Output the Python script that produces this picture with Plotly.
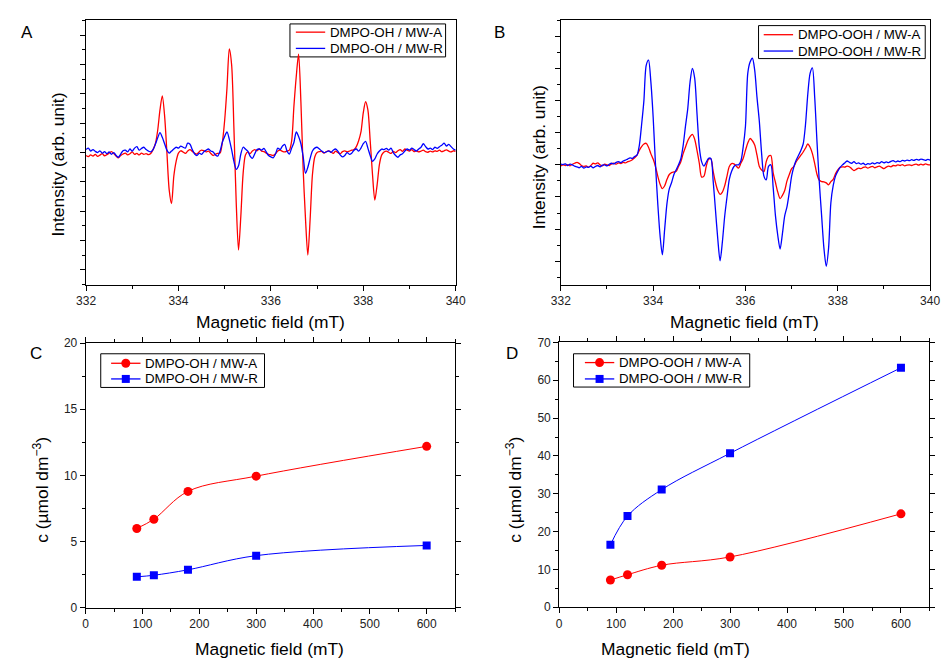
import numpy as np
import plotly.graph_objects as go

# ---------------------------------------------------------------------------
# EPR spectra (arbitrary intensity), sampled every 0.05 mT from 332 to 340 mT
# ---------------------------------------------------------------------------
field_epr = np.round(np.arange(332.0, 340.0 + 1e-9, 0.05), 2)

oh_mw_a = [
    -0.10, -0.14, -0.08, -0.12, -0.06, -0.13, -0.09, -0.04, -0.11, -0.07,  # 332.0
    -0.02, 0.03, -0.03, -0.12, -0.18, -0.10, -0.05, -0.02, -0.08, -0.04,   # 332.5
    0.02, -0.06, -0.03, -0.08, -0.02, -0.06, -0.04, -0.07, -0.03, 0.10,    # 333.0
    0.30, 0.75, 1.45, 1.93, 1.25, 0.00, -1.28, -1.74, -0.80, -0.30,        # 333.5
    -0.02, 0.06, 0.02, -0.03, 0.05, 0.10, 0.04, -0.02, -0.05, 0.03,        # 334.0
    0.08, 0.06, 0.02, 0.05, -0.03, -0.10, -0.06, -0.03, -0.02, 0.35,       # 334.5
    1.10, 2.20, 3.53, 3.00, 0.84, -1.70, -3.32, -2.16, -0.70, -0.08,       # 335.0
    0.02, -0.04, 0.05, 0.10, 0.06, 0.12, 0.05, 0.03, -0.02, -0.06,         # 335.5
    -0.08, -0.10, -0.04, 0.05, 0.08, 0.04, 0.02, 0.05, 0.08, 0.40,         # 336.0
    1.60, 2.60, 3.35, 1.73, -0.60, -2.27, -3.49, -2.27, -0.75, -0.15,      # 336.5
    0.00, 0.03, 0.04, -0.02, 0.03, 0.06, 0.02, -0.03, 0.05, 0.00,          # 337.0
    -0.04, 0.03, 0.06, 0.02, 0.05, 0.08, 0.10, 0.20, 0.40, 0.70,           # 337.5
    1.35, 1.73, 1.45, 0.40, -0.75, -1.62, -1.10, -0.40, -0.08, 0.02,       # 338.0
    0.05, 0.01, -0.03, 0.04, 0.00, 0.06, 0.10, 0.04, 0.12, 0.08,           # 338.5
    0.05, 0.10, 0.03, 0.06, 0.02, 0.05, 0.08, 0.03, 0.01, 0.05,            # 339.0
    0.02, 0.06, 0.04, 0.08, 0.03, 0.06, 0.09, 0.05, 0.02, 0.06,            # 339.5
    0.04,                                                                  # 340.0
]

oh_mw_r = [
    0.10, 0.15, 0.05, 0.10, 0.04, 0.00, 0.06, -0.02, 0.03, -0.04,          # 332.0
    0.02, -0.06, 0.00, -0.10, -0.16, -0.05, 0.06, 0.08, 0.02, 0.12,        # 332.5
    0.05, 0.15, 0.20, 0.08, 0.14, 0.18, 0.10, 0.05, 0.02, 0.10,            # 333.0
    0.28, 0.50, 0.68, 0.52, 0.30, 0.08, -0.02, 0.05, 0.12, 0.18,           # 333.5
    0.15, 0.22, 0.18, 0.15, 0.32, 0.28, 0.10, -0.05, -0.10, -0.02,         # 334.0
    -0.06, 0.03, 0.08, 0.12, 0.05, 0.02, -0.08, -0.12, 0.05, 0.35,         # 334.5
    0.55, 0.70, 0.45, 0.10, -0.30, -0.57, -0.45, -0.05, 0.18, 0.12,        # 335.0
    0.05, -0.12, -0.20, -0.05, 0.10, 0.12, 0.08, 0.14, 0.02, -0.10,        # 335.5
    -0.15, -0.18, -0.05, 0.15, 0.10, 0.22, 0.28, 0.05, -0.05, 0.15,        # 336.0
    0.35, 0.70, 0.55, 0.30, -0.15, -0.71, -0.50, -0.20, 0.05, 0.15,        # 336.5
    0.18, 0.12, 0.05, 0.00, 0.02, 0.06, 0.01, 0.08, 0.12, 0.05,            # 337.0
    -0.08, -0.15, -0.10, 0.00, -0.06, -0.02, 0.08, 0.12, 0.05, 0.15,       # 337.5
    0.30, 0.38, 0.15, -0.10, -0.30, -0.22, -0.05, 0.05, 0.12, 0.10,        # 338.0
    0.14, 0.08, 0.15, 0.00, -0.10, -0.16, -0.08, -0.04, 0.05, 0.12,        # 338.5
    0.08, 0.15, 0.10, 0.05, 0.12, 0.18, 0.30, 0.20, 0.12, 0.15,            # 339.0
    0.10, 0.18, 0.14, 0.20, 0.25, 0.32, 0.22, 0.28, 0.20, 0.12,            # 339.5
    0.08,                                                                  # 340.0
]

ooh_mw_a = [
    -0.03, 0.00, -0.02, 0.01, -0.03, 0.02, 0.05, 0.08, 0.04, -0.02,        # 332.0
    -0.05, -0.03, -0.07, -0.02, 0.05, 0.03, 0.06, 0.00, -0.03, 0.02,       # 332.5
    0.00, -0.02, 0.03, 0.05, 0.02, 0.06, 0.04, 0.08, 0.06, 0.10,           # 333.0
    0.12, 0.16, 0.22, 0.30, 0.45, 0.57, 0.65, 0.67, 0.55, 0.35,            # 333.5
    0.18, -0.05, -0.35, -0.60, -0.74, -0.65, -0.45, -0.30, -0.24, -0.22,   # 334.0
    -0.20, -0.05, 0.10, 0.35, 0.55, 0.75, 0.88, 0.95, 0.80, 0.45,          # 334.5
    0.05, -0.38, -0.35, -0.05, 0.17, 0.19, -0.20, -0.55, -0.80, -0.92,     # 335.0
    -0.85, -0.65, -0.35, -0.05, 0.04, 0.03, -0.04, -0.10, 0.05, 0.20,      # 335.5
    0.45, 0.68, 0.82, 0.75, 0.62, 0.30, -0.05, -0.16, -0.21, 0.10,         # 336.0
    0.27, 0.29, -0.25, -0.55, -0.85, -1.05, -0.95, -0.80, -0.50, -0.30,    # 336.5
    -0.12, -0.05, 0.10, 0.20, 0.30, 0.40, 0.52, 0.65, 0.55, 0.35,          # 337.0
    0.04, -0.30, -0.48, -0.52, -0.53, -0.56, -0.62, -0.52, -0.45, -0.28,   # 337.5
    -0.16, -0.08, -0.06, -0.07, -0.04, -0.06, -0.12, -0.18, -0.14, -0.10,  # 338.0
    -0.12, -0.08, -0.06, -0.10, -0.07, -0.05, -0.09, -0.06, -0.04, -0.08,  # 338.5
    -0.12, -0.07, -0.04, -0.06, -0.02, -0.03, 0.00, -0.02, 0.01, -0.03,    # 339.0
    -0.01, 0.00, -0.02, 0.01, 0.02, -0.01, 0.02, 0.00, 0.03, 0.01,         # 339.5
    0.00,                                                                  # 340.0
]

ooh_mw_r = [
    0.02, 0.01, 0.03, -0.02, 0.02, 0.00, -0.04, -0.06, -0.09, -0.05,       # 332.0
    -0.10, -0.06, -0.08, -0.04, -0.09, -0.05, -0.02, -0.06, -0.01, 0.00,   # 332.5
    -0.03, 0.02, 0.05, 0.03, 0.08, 0.10, 0.07, 0.12, 0.15, 0.18,           # 333.0
    0.22, 0.20, 0.26, 0.30, 0.60, 1.25, 2.00, 3.10, 3.26, 2.60,            # 333.5
    1.50, 0.04, -1.20, -2.20, -2.80, -2.00, -1.20, -0.75, -0.55, -0.30,    # 334.0
    -0.15, 0.00, 0.19, 0.60, 1.20, 1.75, 2.58, 3.00, 2.70, 1.60,           # 334.5
    0.55, 0.10, -0.04, 0.08, 0.20, 0.20, -0.50, -1.40, -2.30, -2.99,       # 335.0
    -2.40, -1.60, -1.00, -0.45, -0.20, -0.05, 0.00, 0.00, 0.12, 0.55,      # 335.5
    1.20, 2.85, 3.20, 3.32, 2.95, 2.10, 1.36, 0.35, -0.35, -0.47,          # 336.0
    -0.05, 0.00, -0.70, -1.59, -2.20, -2.62, -2.15, -1.59, -1.30, -0.85,   # 336.5
    -0.35, -0.05, 0.15, 0.30, 0.45, 0.65, 1.25, 2.20, 2.85, 3.02,          # 337.0
    2.10, 0.70, -0.55, -1.59, -2.60, -3.16, -2.60, -1.18, -0.65, -0.35,    # 337.5
    -0.20, -0.08, 0.00, 0.06, 0.12, 0.08, 0.05, 0.10, 0.04, 0.06,          # 338.0
    0.02, 0.05, 0.00, 0.04, 0.02, 0.06, 0.03, 0.07, 0.05, 0.10,            # 338.5
    0.06, 0.09, 0.07, 0.11, 0.13, 0.09, 0.12, 0.10, 0.14, 0.12,            # 339.0
    0.15, 0.13, 0.16, 0.14, 0.17, 0.15, 0.18, 0.16, 0.14, 0.17,            # 339.5
    0.15,                                                                  # 340.0
]

for series in (oh_mw_a, oh_mw_r, ooh_mw_a, ooh_mw_r):
    assert len(series) == len(field_epr)

# ---------------------------------------------------------------------------
# Spin-adduct concentration (µmol dm^-3)
# ---------------------------------------------------------------------------
field_levels = [90, 120, 180, 300, 600]
c_oh_a = [6.0, 6.7, 8.8, 9.95, 12.2]
c_oh_r = [2.35, 2.47, 2.88, 3.95, 4.72]
c_ooh_a = [7.2, 8.6, 11.1, 13.3, 24.7]
c_ooh_r = [16.5, 24.1, 31.1, 40.7, 63.3]

RED = "#ff0000"
BLUE = "#0000ff"
FONT = "Arial, Liberation Sans, sans-serif"
W, H = 946, 659


def px(x):
    return x / W


def py(y):
    return 1 - y / H


def dom_x(left, right):
    return [left / W, right / W]


def dom_y(top, bottom):
    return [(H - bottom) / H, (H - top) / H]


def axis(**kw):
    base = dict(
        showline=True, linecolor="black", linewidth=1,
        showgrid=False, zeroline=False,
        ticks="outside", ticklen=5, tickwidth=1, tickcolor="black",
        tickfont=dict(size=12, color="#222", family=FONT),
    )
    base.update(kw)
    return base


def minor(step):
    return dict(ticks="outside", ticklen=3, tickwidth=1, tickcolor="black", dtick=step)


fig = go.Figure()

spec_line = dict(width=1.3, shape="spline", smoothing=0.8)

# Panel A: DMPO-OH spectra
fig.add_trace(go.Scatter(x=field_epr, y=oh_mw_a, mode="lines", name="DMPO-OH / MW-A",
                         line=dict(color=RED, **spec_line), xaxis="x", yaxis="y"))
fig.add_trace(go.Scatter(x=field_epr, y=oh_mw_r, mode="lines", name="DMPO-OH / MW-R",
                         line=dict(color=BLUE, **spec_line), xaxis="x", yaxis="y"))

# Panel B: DMPO-OOH spectra
fig.add_trace(go.Scatter(x=field_epr, y=ooh_mw_a, mode="lines", name="DMPO-OOH / MW-A",
                         line=dict(color=RED, **spec_line), xaxis="x2", yaxis="y2"))
fig.add_trace(go.Scatter(x=field_epr, y=ooh_mw_r, mode="lines", name="DMPO-OOH / MW-R",
                         line=dict(color=BLUE, **spec_line), xaxis="x2", yaxis="y2"))

# Panel C: DMPO-OH concentration
fig.add_trace(go.Scatter(x=field_levels, y=c_oh_a, mode="lines+markers", name="DMPO-OH / MW-A",
                         line=dict(color=RED, width=1, shape="spline", smoothing=1),
                         marker=dict(symbol="circle", size=9, color=RED),
                         xaxis="x3", yaxis="y3"))
fig.add_trace(go.Scatter(x=field_levels, y=c_oh_r, mode="lines+markers", name="DMPO-OH / MW-R",
                         line=dict(color=BLUE, width=1, shape="spline", smoothing=1),
                         marker=dict(symbol="square", size=8, color=BLUE),
                         xaxis="x3", yaxis="y3"))

# Panel D: DMPO-OOH concentration
fig.add_trace(go.Scatter(x=field_levels, y=c_ooh_a, mode="lines+markers", name="DMPO-OOH / MW-A",
                         line=dict(color=RED, width=1, shape="spline", smoothing=1),
                         marker=dict(symbol="circle", size=9, color=RED),
                         xaxis="x4", yaxis="y4"))
fig.add_trace(go.Scatter(x=field_levels, y=c_ooh_r, mode="lines+markers", name="DMPO-OOH / MW-R",
                         line=dict(color=BLUE, width=1, shape="spline", smoothing=1),
                         marker=dict(symbol="square", size=8, color=BLUE),
                         xaxis="x4", yaxis="y4"))

annotations = []
shapes = []


def text(x, y, s, size=17.4, angle=0, xanchor="center", yanchor="middle"):
    annotations.append(dict(
        x=px(x), y=py(y), xref="paper", yref="paper", text=s, showarrow=False,
        textangle=angle, xanchor=xanchor, yanchor=yanchor, borderpad=0,
        font=dict(size=size, family=FONT, color="black"),
    ))


# Framed keys are laid out on a hidden full-page pixel axis (x5/y5) so the key
# samples use the same line and marker rendering as the data traces.
def legend_block(box, rows, line_x, text_x, marker=False):
    """box=(left, top, right, bottom); rows=[(y, colour, label, symbol, size)]."""
    left, top, right, bottom = box
    shapes.append(dict(type="rect", xref="paper", yref="paper",
                       x0=px(left), x1=px(right), y0=py(bottom), y1=py(top),
                       line=dict(color="black", width=1), fillcolor="white", layer="below"))
    for y, colour, label, symbol, size in rows:
        fig.add_trace(go.Scatter(x=list(line_x), y=[y, y], mode="lines",
                                 line=dict(color=colour, width=1.3),
                                 xaxis="x5", yaxis="y5", hoverinfo="skip", showlegend=False))
        if marker:
            fig.add_trace(go.Scatter(x=[(line_x[0] + line_x[1]) / 2], y=[y], mode="markers",
                                     marker=dict(symbol=symbol, size=size, color=colour),
                                     xaxis="x5", yaxis="y5", hoverinfo="skip", showlegend=False))
        text(text_x, y, label, size=13.3, xanchor="left")


legend_block((286, 17.3, 445, 51), [(25.7, RED, "DMPO-OH / MW-A", None, 0),
                                     (42.3, BLUE, "DMPO-OH / MW-R", None, 0)],
             (292, 322), 325.5)
legend_block((764.7, 19, 935, 52.7), [(28.3, RED, "DMPO-OOH / MW-A", None, 0),
                                       (45.0, BLUE, "DMPO-OOH / MW-R", None, 0)],
             (770, 800), 803.5)
legend_block((92.7, 354.3, 260, 388.7), [(364.0, RED, "DMPO-OH / MW-A", "circle", 9),
                                          (380.0, BLUE, "DMPO-OH / MW-R", "square", 8)],
             (103.3, 133.3), 137, marker=True)
legend_block((575.7, 354.3, 755.7, 388.3), [(363.3, RED, "DMPO-OOH / MW-A", "circle", 9),
                                             (380.0, BLUE, "DMPO-OOH / MW-R", "square", 8)],
             (587.3, 617.3), 621, marker=True)

# panel letters
text(17.5, 26, "A", size=17)
text(500, 26, "B", size=17)
text(26.5, 354, "C", size=17)
text(512.5, 354, "D", size=17)

# axis titles
text(266, 322, "Magnetic field (mT)")
text(750.5, 322, "Magnetic field (mT)")
text(265, 656, "Magnetic field (mT)")
text(679.5, 656, "Magnetic field (mT)")
text(49, 161, "Intensity (arb. unit)", angle=-90)
text(540, 154, "Intensity (arb. unit)", angle=-90)
text(31, 493, "c (µmol dm<sup>−3</sup>)", angle=-90)
text(514, 493, "c (µmol dm<sup>−3</sup>)", angle=-90)

fig.update_layout(
    width=W, height=H, margin=dict(l=0, r=0, t=0, b=0),
    paper_bgcolor="white", plot_bgcolor="rgba(0,0,0,0)",
    font=dict(family=FONT, color="black"),
    showlegend=False,
    xaxis=axis(domain=dom_x(77.7, 455.3), anchor="y", range=[332, 340],
               tick0=332, dtick=2, minor=minor(1), mirror=True),
    yaxis=axis(domain=dom_y(13.3, 284), anchor="x", range=[-4.51, 4.513],
               tick0=0, dtick=1, minor=minor(0.5), mirror=True, showticklabels=False),
    xaxis2=axis(domain=dom_x(562.7, 940), anchor="y2", range=[332, 340],
                tick0=332, dtick=2, minor=minor(1), mirror=True),
    yaxis2=axis(domain=dom_y(13.3, 284), anchor="x2", range=[-3.74, 4.51],
                tick0=0, dtick=1, minor=minor(0.5), mirror=True, showticklabels=False),
    xaxis3=axis(domain=dom_x(77.3, 454.7), anchor="y3", range=[0, 650],
                tick0=0, dtick=100, minor=minor(50), mirror="ticks"),
    yaxis3=axis(domain=dom_y(343.3, 614), anchor="x3", range=[0, 20],
                tick0=0, dtick=5, minor=minor(2.5), mirror="ticks"),
    xaxis4=axis(domain=dom_x(561, 939.3), anchor="y4", range=[0, 650],
                tick0=0, dtick=100, minor=minor(50), mirror="ticks"),
    yaxis4=axis(domain=dom_y(342.7, 613.3), anchor="x4", range=[0, 70],
                tick0=0, dtick=10, minor=minor(5), mirror="ticks"),
    xaxis5=dict(domain=[0, 1], anchor="y5", range=[0, W], visible=False, fixedrange=True),
    yaxis5=dict(domain=[0, 1], anchor="x5", range=[H, 0], visible=False, fixedrange=True),
    shapes=shapes,
    annotations=annotations,
)

fig.write_html("out.html")
